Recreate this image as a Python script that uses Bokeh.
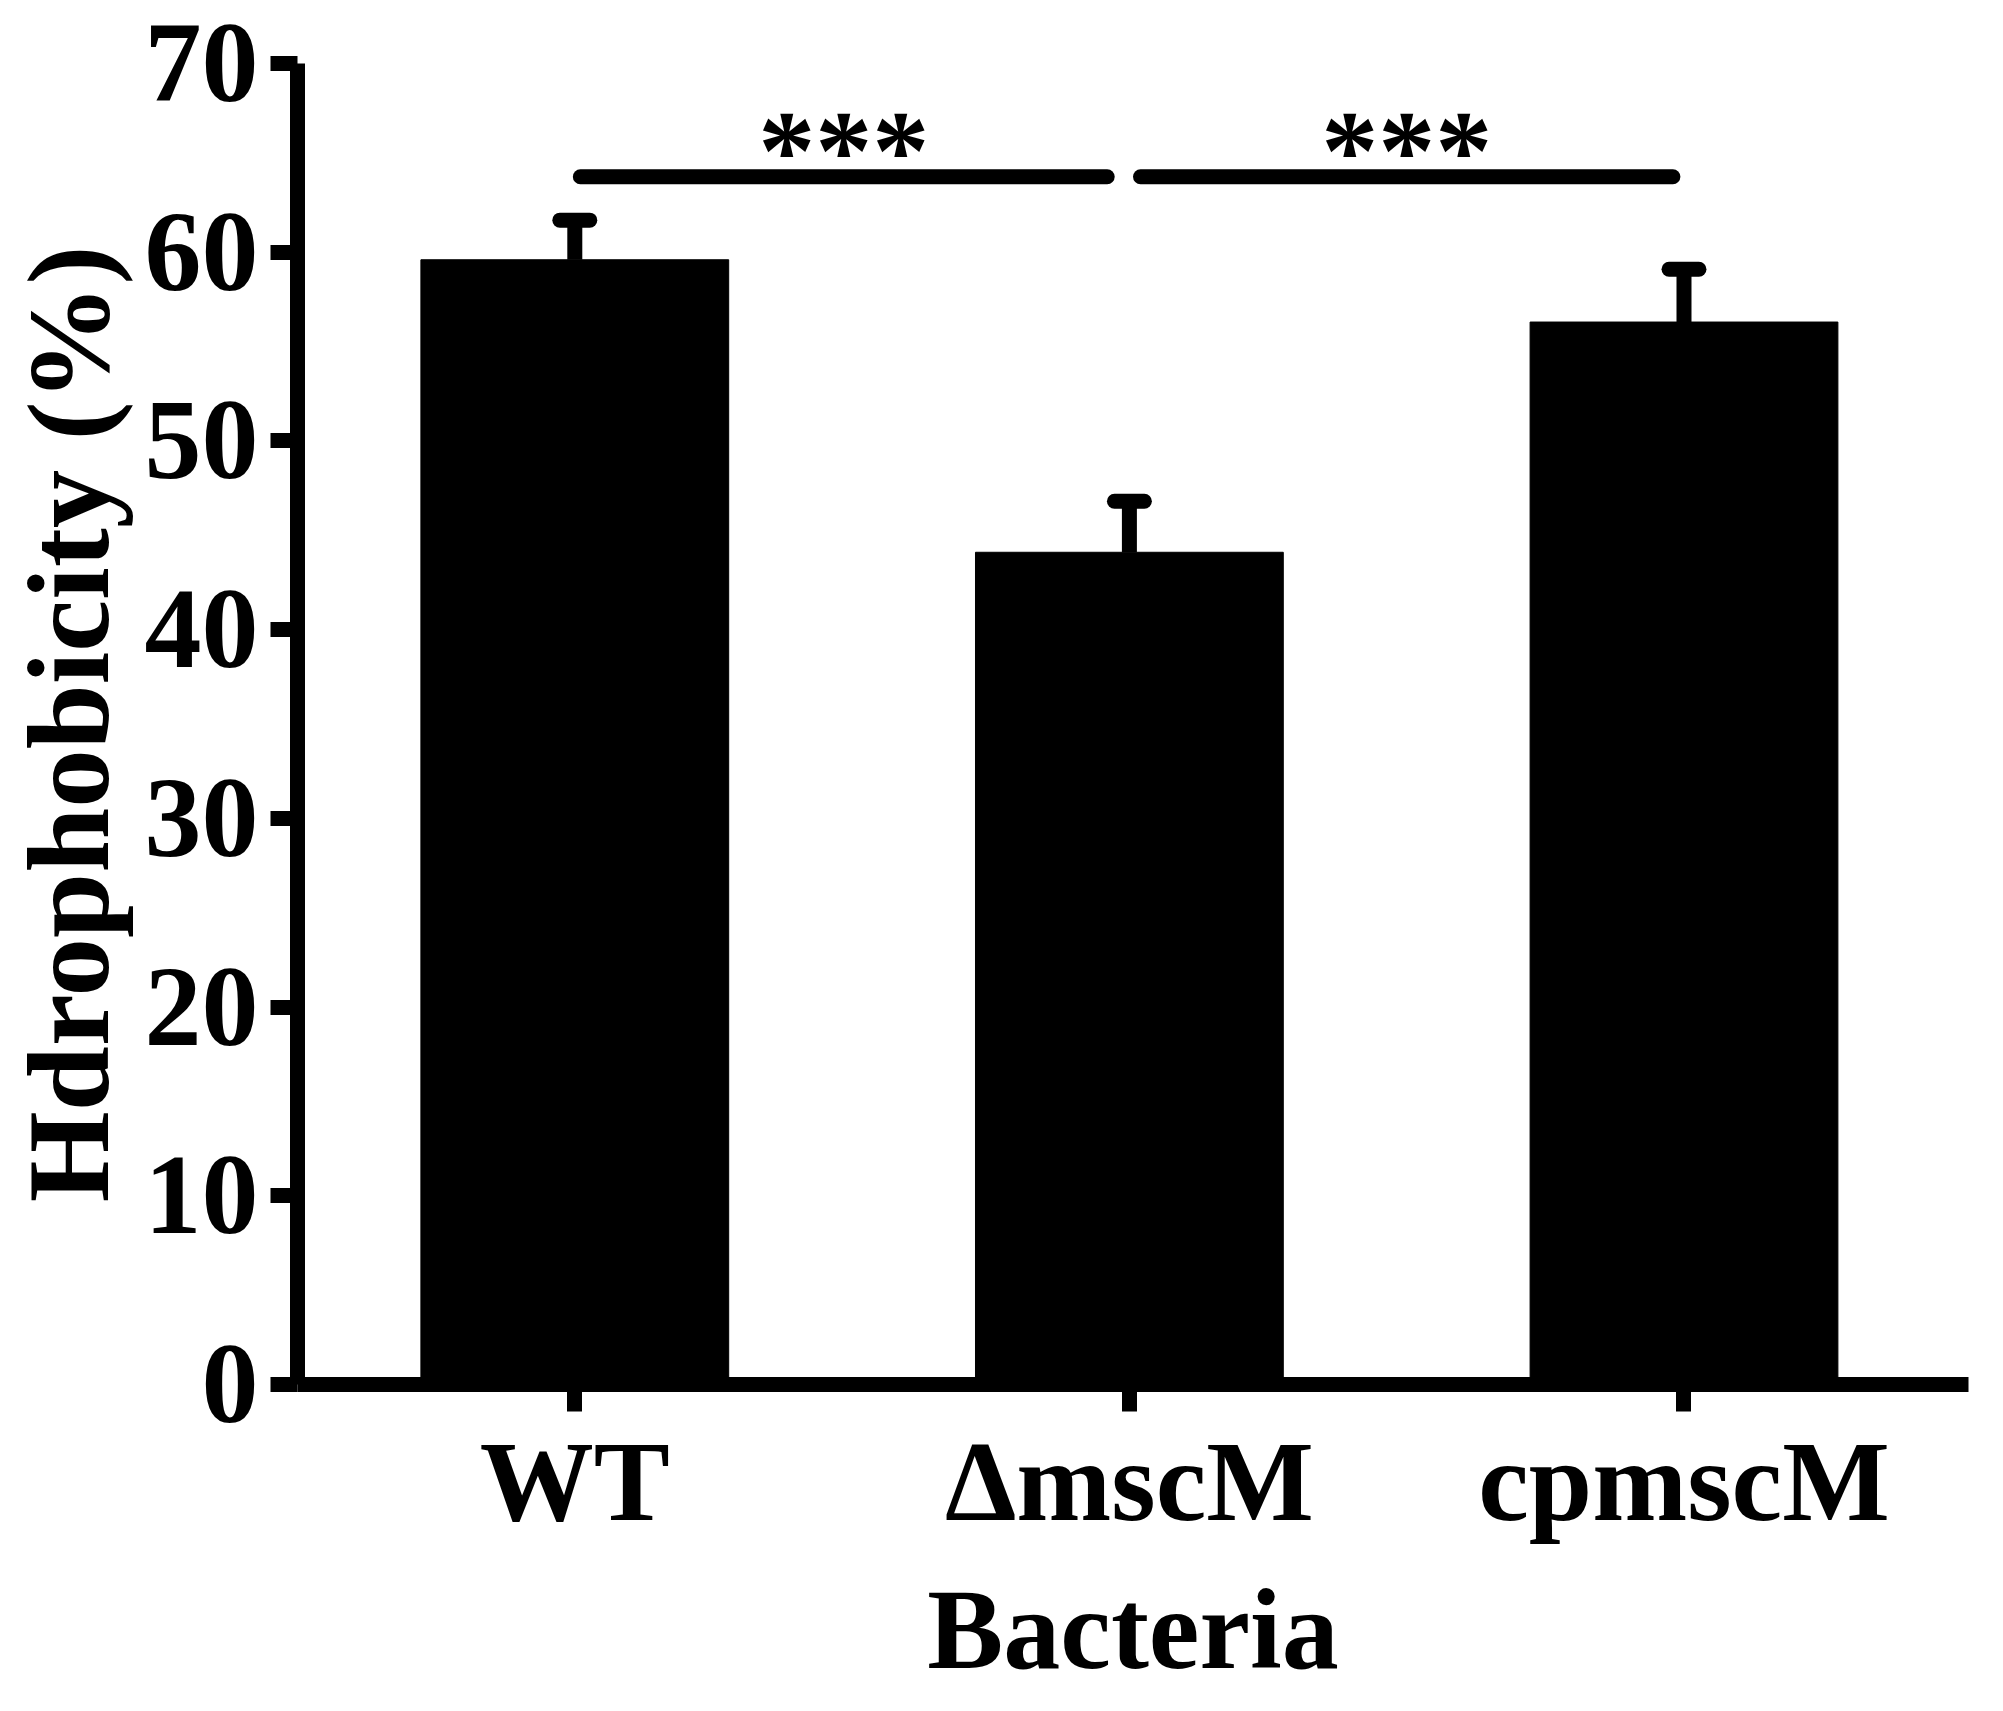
from bokeh.plotting import figure
from bokeh.models import Range1d, FixedTicker
from bokeh.core.properties import value
from bokeh.embed import file_html
from bokeh.resources import INLINE

# ---- data ----
categories = ["WT", "\u0394mscM", "cpmscM"]
positions = [1, 2, 3]
means = [59.6, 44.1, 56.3]
errors = [2.1, 2.7, 2.8]
y_ticks = [0, 10, 20, 30, 40, 50, 60, 70]
sig_starts = [1.01, 2.02]
sig_ends = [1.96, 2.98]
sig_level = 64.0
sig_labels = ["***", "***"]
star_level = 65.4

FONT = "Liberation Serif"
FS = "114px"

p = figure(width=1987, height=1695, output_backend="svg", toolbar_location=None,
           x_range=Range1d(0.5, 3.513), y_range=Range1d(0, 70),
           min_border_left=297, min_border_right=19, min_border_top=63,
           min_border_bottom=304)
p.outline_line_color = None
p.xgrid.visible = False
p.ygrid.visible = False
p.background_fill_color = "white"
p.border_fill_color = "white"

# bars
p.vbar(x=positions, top=means, width=0.555, bottom=0,
       fill_color="black", line_color="black", line_width=1)

# error bars
tops = [m + e for m, e in zip(means, errors)]
p.segment(x0=positions, y0=means, x1=positions, y1=tops,
          line_color="black", line_width=15)
cap_half = 0.027
p.segment(x0=[x - cap_half for x in positions], y0=tops,
          x1=[x + cap_half for x in positions], y1=tops,
          line_color="black", line_width=15, line_cap="round")

# significance lines and stars
p.segment(x0=sig_starts, y0=[sig_level] * len(sig_starts),
          x1=sig_ends, y1=[sig_level] * len(sig_ends),
          line_color="black", line_width=15, line_cap="round")
star_x = [(a + b) / 2 for a, b in zip(sig_starts, sig_ends)]
p.text(x=star_x, y=[star_level] * len(star_x), text=sig_labels,
       text_font=value(FONT), text_font_style="bold", text_font_size=FS,
       text_align="center", text_baseline="alphabetic", text_color="black")

# axes
for ax in (p.xaxis[0], p.yaxis[0]):
    ax.axis_line_width = 15
    ax.axis_line_color = "black"
    ax.major_tick_line_width = 15
    ax.major_tick_line_color = "black"
    ax.major_tick_in = 0
    ax.major_tick_out = 27
    ax.minor_tick_line_color = None
    ax.major_label_text_font = FONT
    ax.major_label_text_font_style = "bold"
    ax.major_label_text_font_size = FS
    ax.major_label_text_color = "black"
    ax.axis_label_text_font = FONT
    ax.axis_label_text_font_style = "bold"
    ax.axis_label_text_font_size = FS
    ax.axis_label_text_color = "black"

p.xaxis.ticker = FixedTicker(ticks=positions)
p.xaxis.major_label_overrides = {pos: lab for pos, lab in zip(positions, categories)}
p.xaxis.major_label_standoff = 6
p.xaxis.axis_label = "Bacteria"
p.xaxis.axis_label_standoff = 18

p.yaxis.ticker = FixedTicker(ticks=y_ticks)
p.yaxis.major_label_standoff = 12
p.yaxis.axis_label = "Hdrophobicity (%)"
p.yaxis.axis_label_text_font_size = "117px"
p.yaxis.axis_label_standoff = 9

open("out.html", "w").write(file_html(p, INLINE))
